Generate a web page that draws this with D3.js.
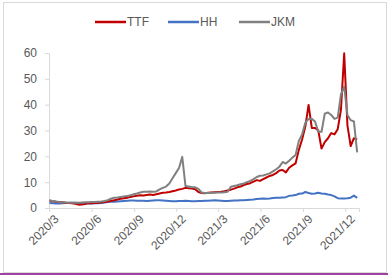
<!DOCTYPE html>
<html>
<head>
<meta charset="utf-8">
<script src="https://cdn.jsdelivr.net/npm/d3@7"></script>
<style>
  body { margin: 0; background: #fff; }
  text { font-family: "Liberation Sans", Arial, sans-serif; fill: #595959; }
</style>
</head>
<body>
<main></main>
<script>
const width = 388;
const height = 275;

// weekly observations, Mondays 2020-03-02 .. 2021-12-27
const weeks = d3.timeMonday.range(new Date(2020, 2, 2), new Date(2021, 11, 28));

const ttf = [
  2.9, 2.6, 2.4, 2.3, 2.2, 2.0, 1.9, 1.8, 1.6, 1.3,
  1.4, 1.5, 1.9, 1.8, 1.9, 2.0, 2.1, 2.3, 2.4, 2.8,
  3.0, 3.3, 3.6, 3.8, 4.0, 4.3, 4.5, 4.7, 4.9, 4.8,
  5.0, 5.2, 5.0, 5.3, 5.6, 5.9, 6.0, 6.2, 6.5, 6.8,
  7.2, 7.4, 7.8, 7.6, 7.5, 7.3, 6.2, 5.8, 5.7, 5.9,
  6.0, 6.1, 6.2, 6.3, 6.5, 6.8, 7.1, 7.5, 8.0, 8.3,
  8.9, 9.3, 9.6, 10.2, 10.8, 10.5, 11.2, 11.8, 12.4, 12.8,
  13.5, 14.5, 14.7, 13.8, 15.6, 16.5, 17.3, 22.5, 26.5, 31.5,
  39.9, 31.0, 31.0, 30.0, 23.0, 25.5, 27.0, 29.0, 28.5, 30.5,
  38.0, 59.9, 32.0, 24.0, 27.0, 26.5
];

const hh = [
  1.9, 1.8, 1.7, 1.7, 1.8, 1.9, 2.0, 2.0, 1.9, 1.8,
  1.9, 1.8, 1.7, 1.7, 1.8, 1.8, 1.9, 2.1, 2.3, 2.5,
  2.4, 2.5, 2.6, 2.7, 2.8, 2.9, 2.9, 2.8, 2.8, 2.8,
  2.7, 2.8, 2.9, 3.0, 3.0, 2.9, 2.8, 2.7, 2.6, 2.6,
  2.7, 2.7, 2.8, 2.7, 2.6, 2.6, 2.7, 2.7, 2.8, 2.8,
  2.9, 3.0, 2.9, 2.8, 2.7, 2.7, 2.8, 2.9, 2.9, 3.0,
  3.0, 3.1, 3.2, 3.3, 3.5, 3.6, 3.7, 3.6, 3.7, 3.9,
  4.0, 4.0, 4.1, 4.2, 4.7, 4.8, 5.0, 5.5, 5.6, 6.2,
  5.8, 5.5, 5.6, 5.9, 5.6, 5.5, 5.2, 5.0, 4.5, 3.8,
  3.7, 3.7, 3.8, 4.0, 4.8, 3.9
];

const jkm = [
  2.9, 2.7, 2.5, 2.3, 2.2, 2.1, 2.0, 2.0, 2.1, 2.0,
  2.1, 2.2, 2.2, 2.3, 2.3, 2.4, 2.5, 2.7, 3.0, 3.6,
  4.0, 4.1, 4.3, 4.5, 4.6, 4.9, 5.3, 5.6, 6.0, 6.3,
  6.3, 6.4, 6.3, 6.4, 7.2, 7.8, 8.3, 9.5, 11.5, 13.5,
  15.5, 19.8, 8.5, 8.3, 8.0, 8.0, 7.4, 6.0, 5.8, 5.8,
  5.9, 5.9, 6.0, 6.0, 6.1, 6.3, 8.2, 8.5, 8.8, 9.2,
  9.5, 10.0, 10.5, 11.2, 12.0, 12.5, 12.6, 13.0, 13.4, 14.2,
  15.0, 16.0, 17.8, 17.2, 18.3, 19.5, 20.5, 26.0, 28.5, 33.0,
  34.5, 34.5, 33.5, 29.5, 29.5, 36.5, 37.0, 36.0, 34.5, 35.0,
  44.0, 47.0, 36.0, 34.0, 33.5, 21.5
];

const seriesNames = ["TTF", "HH", "JKM"];
const seriesColors = ["#c00000", "#4472c4", "#808080"];
const yTicks = [0, 10, 20, 30, 40, 50, 60];
const xTicks = ["2020-03-01", "2020-06-01", "2020-09-01", "2020-12-01",
                "2021-03-01", "2021-06-01", "2021-09-01", "2021-12-01"];

const createCanvas = () => {
    return d3.select("main")
             .append("svg")
             .attr("width", width)
             .attr("height", height);
};

const svg = createCanvas();

// chart frame
svg.append("rect")
   .attr("x", 3.5).attr("y", 2.5)
   .attr("width", 383).attr("height", 270)
   .attr("fill", "none")
   .attr("stroke", "#d9d9d9");
svg.append("line")
   .attr("x1", 0).attr("x2", width)
   .attr("y1", 274).attr("y2", 274)
   .attr("stroke", "#a040a0")
   .attr("stroke-width", 2);

const xScale = d3.scaleTime()
                 .domain([new Date(2020, 2, 1), new Date(2021, 11, 31)])
                 .range([49, 359]);
const yScale = d3.scaleLinear()
                 .domain([0, 60])
                 .range([208, 53]);

const yAxis = svg.append("g")
   .attr("transform", "translate(49,0)")
   .call(d3.axisLeft(yScale).tickValues(yTicks).tickSize(4).tickPadding(8));
yAxis.selectAll("text").style("font-size", "12px");

const parse = d3.timeParse("%Y-%m-%d");
const xAxis = svg.append("g")
   .attr("transform", "translate(0,208)")
   .call(d3.axisBottom(xScale)
           .tickValues(xTicks.map(parse))
           .tickFormat(d3.timeFormat("%Y/%-m"))
           .tickSize(4));
xAxis.selectAll("text")
     .style("font-size", "12px")
     .attr("text-anchor", "end")
     .attr("transform", "rotate(-45)")
     .attr("dx", "-0.1em")
     .attr("dy", "0.7em");

[xAxis, yAxis].forEach(a => {
    a.selectAll(".domain").attr("stroke", "#d9d9d9");
    a.selectAll(".tick line").attr("stroke", "#d9d9d9");
});

const line = d3.line()
               .x((d, i) => xScale(weeks[i]))
               .y(d => yScale(d));

// HH underneath, TTF, then JKM on top
[[hh, 1], [ttf, 0], [jkm, 2]].forEach(([values, k]) => {
    svg.append("path")
       .datum(values)
       .attr("fill", "none")
       .attr("stroke", seriesColors[k])
       .attr("stroke-width", 2)
       .attr("stroke-linejoin", "round")
       .attr("d", line);
});

// legend
const legendX = [95, 168, 239];
seriesNames.forEach((name, k) => {
    const g = svg.append("g").attr("transform", `translate(${legendX[k]},22)`);
    g.append("line")
     .attr("x1", 0).attr("x2", 31)
     .attr("stroke", seriesColors[k])
     .attr("stroke-width", 2.5);
    g.append("text")
     .attr("x", 32)
     .attr("dy", "0.35em")
     .style("font-size", "12px")
     .text(name);
});
</script>
</body>
</html>
